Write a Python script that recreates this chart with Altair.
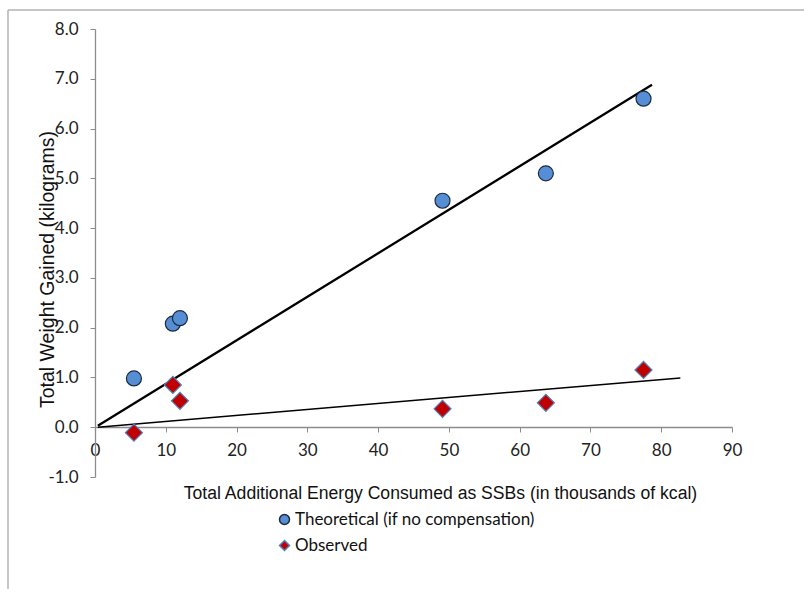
import altair as alt
import pandas as pd

# --- data ---
energy = [5.5, 11.0, 12.0, 49.1, 63.7, 77.5]
theoretical = [0.98, 2.08, 2.19, 4.55, 5.10, 6.60]
observed = [-0.11, 0.85, 0.53, 0.37, 0.49, 1.15]

theo_trend_x = [0.4, 78.7]
theo_trend_y = [0.03, 6.88]
obs_trend_x = [0.4, 82.7]
obs_trend_y = [0.0, 0.99]

series_names = ["Theoretical (if no compensation)", "Observed"]
x_ticks = [0, 10, 20, 30, 40, 50, 60, 70, 80, 90]
y_ticks = [-1, 0, 1, 2, 3, 4, 5, 6, 7, 8]

pts = pd.DataFrame(
    {
        "energy": energy * 2,
        "weight": theoretical + observed,
        "series": [series_names[0]] * len(energy) + [series_names[1]] * len(energy),
    }
)
trend_theo = pd.DataFrame({"energy": theo_trend_x, "weight": theo_trend_y})
trend_obs = pd.DataFrame({"energy": obs_trend_x, "weight": obs_trend_y})

AXIS_GRAY = "#8c8c8c"
TICK_FONT = "Lato"
TITLE_FONT = "Liberation Sans"

x_scale = alt.Scale(domain=[0, 90], nice=False, zero=False)
y_scale = alt.Scale(domain=[-1, 8], nice=False, zero=False)

x_enc = alt.X(
    "energy:Q",
    scale=x_scale,
    axis=alt.Axis(
        title="Total Additional Energy Consumed as SSBs (in thousands of kcal)",
        values=x_ticks,
        format="d",
        offset=-50,
        grid=False,
        domainColor=AXIS_GRAY,
        domainWidth=1.3,
        tickColor=AXIS_GRAY,
        tickSize=5,
        labelPadding=10,
        labelFlush=False,
        labelFont=TICK_FONT,
        labelFontSize=17,
        labelColor="#222222",
        titleFont=TITLE_FONT,
        titleFontSize=17.6,
        titleFontWeight="normal",
        titleColor="#111111",
        titleX=345,
        titleY=66,
        titleBaseline="middle",
    ),
)
y_enc = alt.Y(
    "weight:Q",
    scale=y_scale,
    axis=alt.Axis(
        title="Total Weight Gained (kilograms)",
        values=y_ticks,
        labelExpr="replace(format(datum.value, '.1f'), '\u2212', '-')",
        grid=False,
        domainColor=AXIS_GRAY,
        domainWidth=1.3,
        tickColor=AXIS_GRAY,
        tickSize=5,
        labelPadding=12,
        labelFont=TICK_FONT,
        labelFontSize=17,
        labelColor="#222222",
        titleFont=TITLE_FONT,
        titleFontSize=19.5,
        titleFontWeight="normal",
        titleColor="#111111",
        titleX=-48,
        titleY=240,
        titleAngle=-90,
        titleAlign="center",
        titleBaseline="middle",
    ),
)

legend = alt.Legend(
    title=None,
    orient="none",
    legendX=181,
    legendY=482,
    direction="vertical",
    labelFont=TICK_FONT,
    labelFontSize=17,
    labelLimit=500,
    labelColor="#111111",
    symbolSize=100,
    rowPadding=8,
    labelOffset=2,
    padding=0,
)

shape_enc = alt.Shape(
    "series:N",
    scale=alt.Scale(domain=series_names, range=["circle", "diamond"]),
    legend=legend,
)
fill_enc = alt.Fill(
    "series:N",
    scale=alt.Scale(domain=series_names, range=["#558ED5", "#C00000"]),
    legend=legend,
)
stroke_enc = alt.Stroke(
    "series:N",
    scale=alt.Scale(domain=series_names, range=["#1d2b3f", "#4F81BD"]),
    legend=legend,
)

base_pts = alt.Chart(pts).encode(
    x=x_enc, y=y_enc, shape=shape_enc, fill=fill_enc, stroke=stroke_enc
)
circles = base_pts.transform_filter(
    alt.datum.series == series_names[0]
).mark_point(filled=True, size=225, strokeWidth=1.2, opacity=1)
diamonds = base_pts.transform_filter(
    alt.datum.series == series_names[1]
).mark_point(filled=True, size=290, strokeWidth=1.2, opacity=1)

line_theo = (
    alt.Chart(trend_theo)
    .mark_line(color="#000000", strokeWidth=2.3)
    .encode(x=alt.X("energy:Q", scale=x_scale), y=alt.Y("weight:Q", scale=y_scale))
)
line_obs = (
    alt.Chart(trend_obs)
    .mark_line(color="#000000", strokeWidth=1.5)
    .encode(x=alt.X("energy:Q", scale=x_scale), y=alt.Y("weight:Q", scale=y_scale))
)

frame_df = pd.DataFrame({"k": [0]})
frame_top = (
    alt.Chart(frame_df)
    .mark_rule(color="#b3b3b3", strokeWidth=1.5)
    .encode(x=alt.value(-87), x2=alt.value(712), y=alt.value(-19))
)
frame_left = (
    alt.Chart(frame_df)
    .mark_rule(color="#b3b3b3", strokeWidth=1.5)
    .encode(x=alt.value(-87), y=alt.value(-19), y2=alt.value(562))
)

chart = (
    alt.layer(frame_top, frame_left, line_theo, line_obs, circles, diamonds)
    .properties(
        width=637,
        height=448,
        autosize=alt.AutoSizeParams(type="none"),
        padding={"left": 95, "top": 29, "right": 72, "bottom": 112},
        background="white",
    )
    .configure_view(stroke=None)
)

chart.save("out.html", embed_options={"renderer": "svg", "actions": False})
